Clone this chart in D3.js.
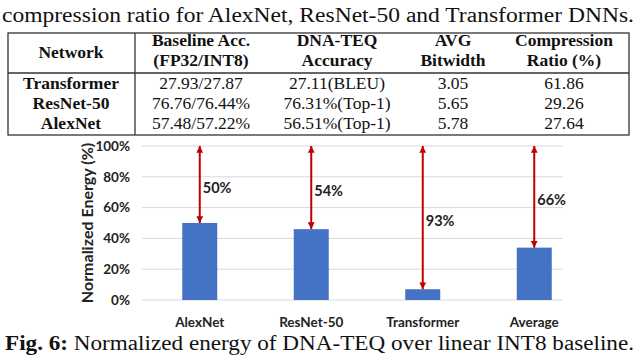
<!DOCTYPE html>
<html>
<head>
<meta charset="utf-8">
<script src="https://cdn.jsdelivr.net/npm/d3@7"></script>
<style>
  body { margin: 0; background: white; }
  svg { display: block; }
  .serif { font-family: "Liberation Serif", "Times New Roman", serif; fill: #111; }
  .sans { font-family: Lato, "Open Sans", sans-serif; font-weight: 700; fill: #222; }
</style>
</head>
<body>
<svg width="640" height="358"></svg>
<script>
// table data
const headerLines = [
  ["Network"],
  ["Baseline Acc.", "(FP32/INT8)"],
  ["DNA-TEQ", "Accuracy"],
  ["AVG", "Bitwidth"],
  ["Compression", "Ratio (%)"]
];
const networks = ["Transformer", "ResNet-50", "AlexNet"];
const baselineAcc = ["27.93/27.87", "76.76/76.44%", "57.48/57.22%"];
const dnaTeqAcc = ["27.11(BLEU)", "76.31%(Top-1)", "56.51%(Top-1)"];
const avgBitwidth = ["3.05", "5.65", "5.78"];
const compRatio = ["61.86", "29.26", "27.64"];

// chart data
const categories = ["AlexNet", "ResNet-50", "Transformer", "Average"];
const energy = [0.50, 0.46, 0.07, 0.34];
const savings = ["50%", "54%", "93%", "66%"];
const yTicks = [0, 0.2, 0.4, 0.6, 0.8, 1.0];

const svg = d3.select("svg");
const RED = "#c00000";
const BLUE = "#4472c4";

// text line above the table
svg.append("text")
  .attr("class", "serif")
  .attr("x", 2).attr("y", 22)
  .attr("font-size", 20.5)
  .attr("textLength", 632)
  .attr("lengthAdjust", "spacingAndGlyphs")
  .text("compression ratio for AlexNet, ResNet-50 and Transformer DNNs.");

// ---- table ----
const tLeft = 8, tRight = 629, tTop = 33, tHead = 73, tBottom = 135;
const colX = [71, 201, 337, 453, 564];

svg.append("rect")
  .attr("x", tLeft).attr("y", tTop)
  .attr("width", tRight - tLeft).attr("height", tBottom - tTop)
  .attr("fill", "none").attr("stroke", "#333").attr("stroke-width", 1.3);
svg.append("line")
  .attr("x1", tLeft).attr("x2", tRight).attr("y1", tHead).attr("y2", tHead)
  .attr("stroke", "#333").attr("stroke-width", 1.3);
svg.append("line")
  .attr("x1", 135).attr("x2", 135).attr("y1", tTop).attr("y2", tBottom)
  .attr("stroke", "#333").attr("stroke-width", 1.3);

headerLines.forEach((lines, i) => {
  lines.forEach((t, j) => {
    const y = lines.length === 1 ? 58 : 46 + j * 20;
    svg.append("text")
      .attr("class", "serif")
      .attr("x", colX[i]).attr("y", y)
      .attr("text-anchor", "middle")
      .attr("font-size", 17.5).attr("font-weight", "bold")
      .text(t);
  });
});

const columns = [networks, baselineAcc, dnaTeqAcc, avgBitwidth, compRatio];
columns.forEach((col, i) => {
  svg.selectAll(null)
    .data(col)
    .enter().append("text")
    .attr("class", "serif")
    .attr("x", colX[i])
    .attr("y", (d, r) => 89 + r * 20)
    .attr("text-anchor", "middle")
    .attr("font-size", 17.5)
    .attr("font-weight", i === 0 ? "bold" : "normal")
    .text(d => d);
});

// ---- bar chart ----
const x = d3.scaleBand()
  .domain(categories)
  .range([144, 590])
  .paddingInner(0.686)
  .paddingOuter(0.343);

const y = d3.scaleLinear()
  .domain([0, 1])
  .range([300, 146]);

const chart = svg.append("g");

// gridlines
chart.selectAll(".grid")
  .data(yTicks)
  .enter().append("line")
  .attr("class", "grid")
  .attr("x1", 142).attr("x2", 563)
  .attr("y1", d => y(d)).attr("y2", d => y(d))
  .attr("stroke", "#d9d9d9").attr("stroke-width", 1);

// y tick labels
chart.selectAll(".ytick")
  .data(yTicks)
  .enter().append("text")
  .attr("class", "sans")
  .attr("x", 130)
  .attr("y", d => y(d))
  .attr("dy", "0.36em")
  .attr("text-anchor", "end")
  .attr("font-size", 13.5)
  .text(d3.format(".0%"));

// y axis title
chart.append("text")
  .attr("class", "sans")
  .attr("transform", `translate(93,${(y(0) + y(1)) / 2}) rotate(-90)`)
  .attr("text-anchor", "middle")
  .attr("font-size", 16)
  .text("Normalized Energy (%)");

// bars
chart.selectAll(".bar")
  .data(energy)
  .enter().append("rect")
  .attr("class", "bar")
  .attr("x", (d, i) => x(categories[i]))
  .attr("y", d => y(d))
  .attr("width", x.bandwidth())
  .attr("height", d => y(0) - y(d))
  .attr("fill", BLUE);

// x labels
chart.selectAll(".xlab")
  .data(categories)
  .enter().append("text")
  .attr("class", "sans")
  .attr("x", d => x(d) + x.bandwidth() / 2)
  .attr("y", 327)
  .attr("text-anchor", "middle")
  .attr("font-size", 13.5)
  .text(d => d);

// arrow heads
const defs = svg.append("defs");
defs.append("marker")
  .attr("id", "head")
  .attr("viewBox", "0 0 10 10")
  .attr("refX", 10).attr("refY", 5)
  .attr("markerWidth", 3.4).attr("markerHeight", 3.4)
  .attr("markerUnits", "strokeWidth")
  .attr("orient", "auto-start-reverse")
  .append("path")
  .attr("d", "M0,0 L10,5 L0,10 z")
  .attr("fill", RED);

chart.selectAll(".arrow")
  .data(energy)
  .enter().append("line")
  .attr("class", "arrow")
  .attr("x1", (d, i) => x(categories[i]) + x.bandwidth() / 2)
  .attr("x2", (d, i) => x(categories[i]) + x.bandwidth() / 2)
  .attr("y1", y(1))
  .attr("y2", d => y(d))
  .attr("stroke", RED).attr("stroke-width", 2)
  .attr("marker-start", "url(#head)")
  .attr("marker-end", "url(#head)");

chart.selectAll(".saving")
  .data(energy)
  .enter().append("text")
  .attr("class", "sans")
  .attr("x", (d, i) => x(categories[i]) + x.bandwidth() / 2 + 3)
  .attr("y", d => (y(1) + y(d)) / 2 + 3)
  .attr("dy", "0.36em")
  .attr("font-size", 14.5)
  .text((d, i) => savings[i]);

// caption
const cap = svg.append("text")
  .attr("class", "serif")
  .attr("x", 5).attr("y", 350)
  .attr("font-size", 20.5)
  .attr("textLength", 629)
  .attr("lengthAdjust", "spacingAndGlyphs");
cap.append("tspan").attr("font-weight", "bold").text("Fig. 6:");
cap.append("tspan").text(" Normalized energy of DNA-TEQ over linear INT8 baseline.");
</script>
</body>
</html>
